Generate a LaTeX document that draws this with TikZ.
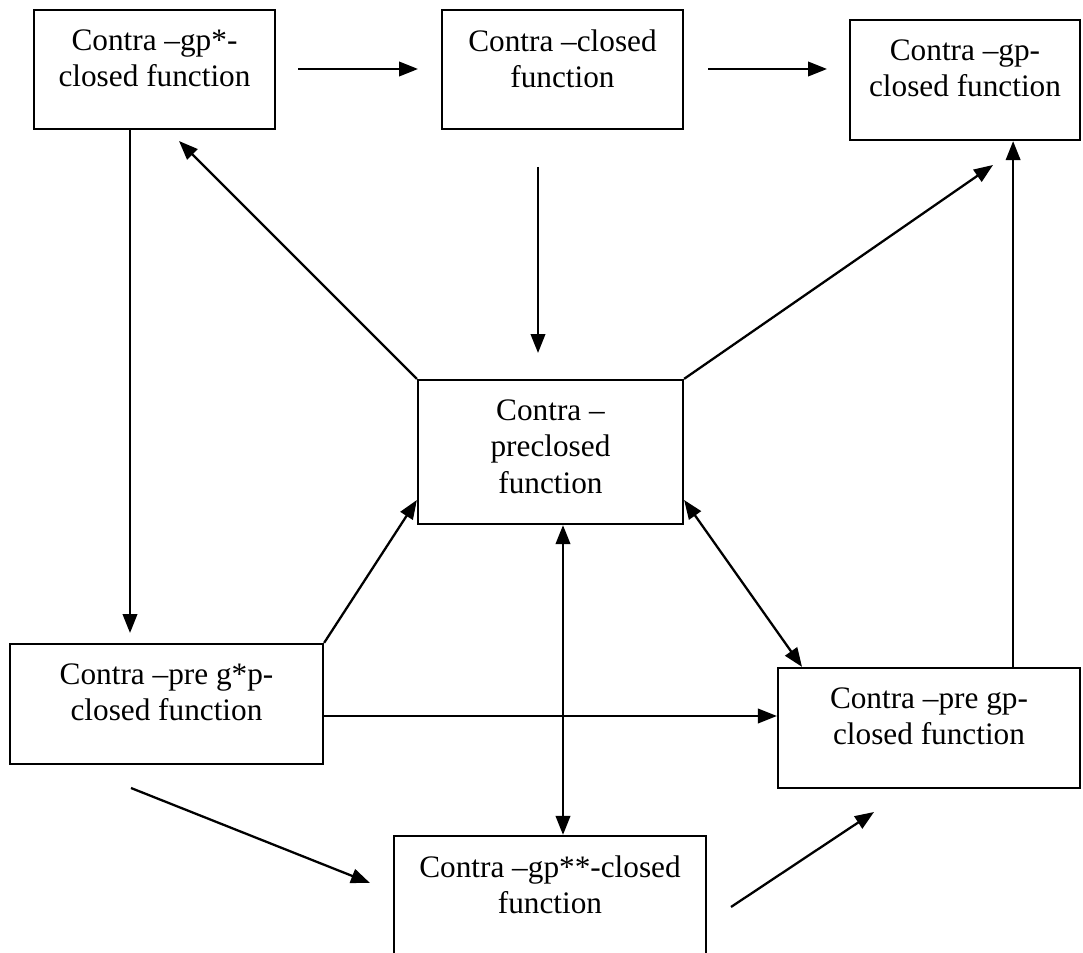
\documentclass[tikz,border=0pt]{standalone}
\usepackage{fontspec}
\setmainfont{Liberation Serif}
\usetikzlibrary{arrows.meta}
\tikzset{
    func/.style={draw, inner sep=0pt},
    functext/.style={anchor=north, align=center, inner sep=0pt, yshift=-0.4cm,
        font=\fontsize{17.8pt}{20.6pt}\selectfont},
}
\begin{document}
\begin{tikzpicture}[x=0.02cm, y=-0.02cm, line width=1.3pt,
        >={Triangle[length=0.38cm, width=0.29cm]}]
    \useasboundingbox (0, 0) rectangle (1083, 953);
    \clip (0, 0) rectangle (1083, 953);
    \node[func, minimum width=4.82cm, minimum height=2.38cm,
        label={[functext]north:Contra –gp*-\\closed function}] (gpstar) at (154.5, 69.5) {};
    \node[func, minimum width=4.82cm, minimum height=2.38cm,
        label={[functext]north:Contra –closed\\function}] (closed) at (562.5, 69.5) {};
    \node[func, minimum width=4.6cm, minimum height=2.4cm,
        label={[functext]north:Contra –gp-\\closed function}] (gp) at (965, 80) {};
    \node[func, minimum width=5.3cm, minimum height=2.88cm,
        label={[functext]north:Contra –\\preclosed\\function}] (pre) at (550.5, 452) {};
    \node[func, minimum width=6.26cm, minimum height=2.4cm,
        label={[functext]north:Contra –pre g*p-\\closed function}] (pregstar) at (166.5, 704) {};
    \node[func, minimum width=6.04cm, minimum height=2.4cm,
        label={[functext]north:Contra –pre gp-\\closed function}] (pregp) at (929, 728) {};
    \node[func, minimum width=6.24cm, minimum height=2.4cm,
        label={[functext]north:Contra –gp**-closed\\function}] (gpss) at (550, 896) {};
    % free ends
    \coordinate (p1) at (298, 69);
    \coordinate (p2) at (418, 69);
    \coordinate (p3) at (708, 69);
    \coordinate (p4) at (827, 69);
    \coordinate (p5) at (130, 633);
    \coordinate (p6) at (179, 141);
    \coordinate (p7) at (538, 167);
    \coordinate (p8) at (538, 353);
    \coordinate (p9) at (993, 165);
    \coordinate (p10) at (131, 788);
    \coordinate (p11) at (370, 883);
    \coordinate (p12) at (731, 907);
    \coordinate (p13) at (874, 812);
    \draw[->] (p1) -- (p2);
    \draw[->] (p3) -- (p4);
    \draw[->] (gpstar.south -| p5) -- (p5);
    \draw[->] (pre.north west) -- (p6);
    \draw[->] (p7) -- (p8);
    \draw[->] (pre.north east) -- (p9);
    \draw[->] ([xshift=-1.36cm]pregp.north east) -- ([xshift=-1.36cm]pregp.north east |- gp.south);
    \draw[->] (pregstar.north east) -- ([yshift=-0.96cm]pre.west);
    \draw[->] ([yshift=-0.24cm]pregstar.east) -- ([yshift=-0.24cm]pregstar.east -| pregp.west);
    \draw[<->] ([xshift=0.25cm]pre.south) -- ([xshift=0.25cm]pre.south |- gpss.north);
    \draw[<->] ([yshift=-0.96cm]pre.east) -- ([xshift=-2.54cm]pregp.north);
    \draw[->] (p10) -- (p11);
    \draw[->] (p12) -- (p13);
\end{tikzpicture}
\end{document}
